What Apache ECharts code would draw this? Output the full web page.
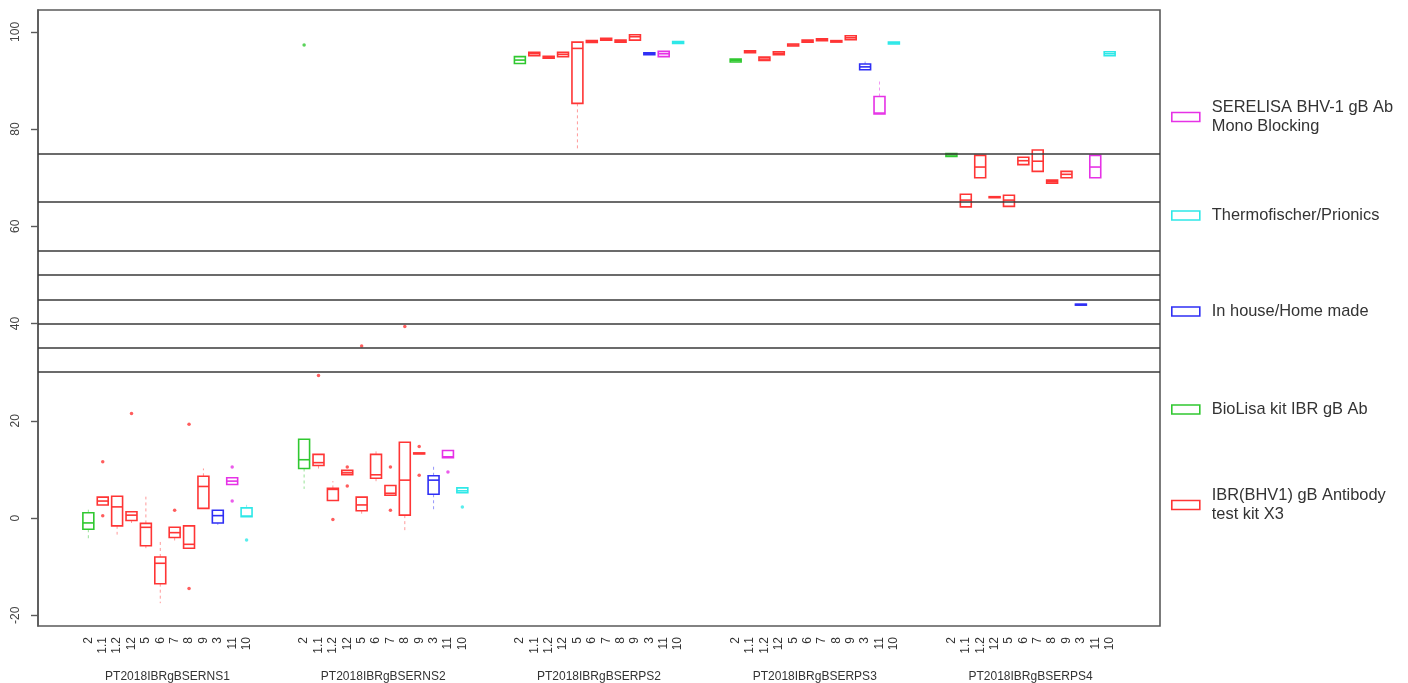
<!DOCTYPE html>
<html>
<head>
<meta charset="utf-8">
<script src="https://cdn.jsdelivr.net/npm/echarts@6/dist/echarts.min.js"></script>
<style>
  html, body { margin: 0; padding: 0; background: #fff; }
  #chart { width: 1408px; height: 683px; }
</style>
</head>
<body>
<div id="chart"></div>
<script>
// panels (one per sample) and the kits inside each panel
var groups = ["PT2018IBRgBSERNS1", "PT2018IBRgBSERNS2", "PT2018IBRgBSERPS2", "PT2018IBRgBSERPS3", "PT2018IBRgBSERPS4"];
var labs = ["2", "1.1", "1.2", "12", "5", "6", "7", "8", "9", "3", "11", "10"];
var kits = ["SERELISA BHV-1 gB Ab\nMono Blocking", "Thermofischer/Prionics", "In house/Home made", "BioLisa kit IBR gB Ab", "IBR(BHV1) gB Antibody\ntest kit X3"];
// which kit each lab used (index into kits)
var labKit = [3, 4, 4, 4, 4, 4, 4, 4, 4, 2, 0, 1];
var yTicks = [-20, 0, 20, 40, 60, 80, 100];
var refLines = [75, 65, 55, 50, 45, 40, 35, 30];

// box stats per panel: [min, q1, median, q3, max] for each lab
var statsNS1 = [
  [-4.3, -2.3, -1.0, 1.1, 2.3], [2.7, 2.7, 3.5, 4.3, 4.3], [-3.4, -1.6, 2.3, 4.5, 4.5], [-1.0, -0.5, 0.6, 1.3, 1.3],
  [-6.2, -5.7, -1.9, -1.1, 4.4], [-17.5, -13.5, -9.3, -8.0, -4.5], [-5.2, -4.0, -3.0, -1.9, -1.9], [-6.2, -6.2, -5.4, -1.6, -1.6],
  [2.0, 2.0, 6.5, 8.6, 10.2], [-1.4, -1.0, 0.5, 1.6, 1.6], [6.9, 6.9, 7.6, 8.3, 8.3], [0.3, 0.3, 0.4, 2.1, 2.8]
];
var statsNS2 = [
  [6.0, 10.2, 12.0, 16.2, 16.2], [9.7, 10.8, 11.4, 13.1, 13.1], [3.6, 3.6, 5.9, 6.1, 7.6], [8.9, 8.9, 9.3, 9.8, 9.8],
  [0.9, 1.5, 2.7, 4.3, 4.3], [7.3, 8.2, 8.9, 13.1, 13.8], [4.7, 4.7, 5.1, 6.7, 6.7], [-3.0, 0.6, 7.8, 15.6, 15.6],
  [13.2, 13.2, 13.3, 13.4, 13.4], [1.5, 4.9, 7.8, 8.7, 10.9], [12.4, 12.4, 12.6, 13.9, 13.9], [5.2, 5.2, 5.6, 6.2, 6.2]
];
var statsPS2 = [
  [93.5, 93.5, 94.2, 94.9, 94.9], [95.1, 95.1, 95.5, 95.8, 95.8], [94.6, 94.6, 94.8, 95.0, 95.0], [94.9, 94.9, 95.4, 95.8, 95.8],
  [75.5, 85.3, 96.6, 97.9, 97.9], [97.8, 97.8, 98.0, 98.2, 98.2], [98.3, 98.3, 98.5, 98.7, 98.7], [97.9, 97.9, 98.1, 98.3, 98.3],
  [98.3, 98.3, 99.0, 99.4, 99.4], [95.3, 95.3, 95.5, 95.7, 95.7], [94.9, 94.9, 95.5, 96.0, 96.0], [97.6, 97.6, 97.8, 98.0, 98.0]
];
var statsPS3 = [
  [93.8, 93.8, 94.1, 94.4, 94.4], [95.7, 95.7, 95.9, 96.1, 96.1], [94.1, 94.1, 94.4, 94.8, 94.8], [95.3, 95.3, 95.6, 95.9, 95.9],
  [97.1, 97.1, 97.3, 97.5, 97.5], [97.9, 97.9, 98.1, 98.3, 98.3], [98.2, 98.2, 98.4, 98.6, 98.6], [97.9, 97.9, 98.1, 98.2, 98.2],
  [98.4, 98.4, 98.8, 99.2, 99.2], [92.2, 92.2, 92.8, 93.4, 93.9], [83.1, 83.1, 83.3, 86.7, 90.0], [97.5, 97.5, 97.7, 97.9, 97.9]
];
var statsPS4 = [
  [74.4, 74.4, 74.7, 75.0, 75.0], [64.0, 64.0, 65.4, 66.6, 66.6], [70.0, 70.0, 72.2, 74.6, 74.6], [65.9, 65.9, 66.0, 66.1, 66.1],
  [64.1, 64.1, 65.4, 66.4, 66.4], [72.7, 72.7, 73.5, 74.2, 74.2], [71.3, 71.3, 73.4, 75.7, 75.7], [68.9, 68.9, 69.2, 69.5, 69.5],
  [70.0, 70.0, 70.7, 71.3, 71.3], [43.8, 43.8, 43.9, 44.0, 44.0], [70.0, 70.0, 72.2, 74.6, 74.6], [95.1, 95.1, 95.5, 95.9, 95.9]
];
var stats = [statsNS1, statsNS2, statsPS2, statsPS3, statsPS4];

// outliers per panel: [lab index, value]
var outNS1 = [[1, 11.6], [1, 0.5], [3, 21.5], [6, 1.6], [7, 19.3], [7, -14.5], [10, 10.5], [10, 3.5], [11, -4.5]];
var outNS2 = [[0, 97.3], [1, 29.3], [2, -0.3], [3, 10.5], [3, 6.6], [4, 35.4], [6, 10.5], [6, 1.6], [7, 39.4], [8, 14.7], [8, 8.8], [10, 9.5], [11, 2.3]];
var outPS2 = [];
var outPS3 = [];
var outPS4 = [];
var outliers = [outNS1, outNS2, outPS2, outPS3, outPS4];

var kitColors = ["#e632e6", "#2ee8e8", "#2f2ff5", "#30c830", "#ff3535"];
var kitWhisk = ["rgba(230,50,230,0.5)", "rgba(46,232,232,0.5)", "rgba(47,47,245,0.5)", "rgba(48,200,48,0.5)", "rgba(255,53,53,0.5)"];

var GAP = 3;          // empty slots between panels
var PER = labs.length + GAP;

// category slots along x
var slots = [];
for (var g = 0; g < groups.length; g++) {
  for (var k = 0; k < GAP; k++) slots.push("_" + g + "_" + k);
  for (var i = 0; i < labs.length; i++) slots.push(g + "|" + labs[i]);
}
for (var k2 = 0; k2 < GAP; k2++) slots.push("_end_" + k2);

function slotOf(g, i) { return g * PER + GAP + i; }

function renderBox(params, api) {
  var x = api.value(0);
  var pMin = api.coord([x, api.value(1)]);
  var pQ1 = api.coord([x, api.value(2)]);
  var pMed = api.coord([x, api.value(3)]);
  var pQ3 = api.coord([x, api.value(4)]);
  var pMax = api.coord([x, api.value(5)]);
  var w = api.size([1, 0])[0] * 0.76;
  var cx = pMed[0];
  var kit = api.value(6);
  var col = kitColors[kit];
  var wc = kitWhisk[kit];
  var h = pQ1[1] - pQ3[1];
  return {
    type: "group",
    children: [
      { type: "line", shape: { x1: cx, y1: pQ3[1], x2: cx, y2: pMax[1] }, style: { stroke: wc, lineWidth: 1, lineDash: [3, 3] } },
      { type: "line", shape: { x1: cx, y1: pQ1[1], x2: cx, y2: pMin[1] }, style: { stroke: wc, lineWidth: 1, lineDash: [3, 3] } },
      { type: "rect", shape: { x: cx - w / 2, y: pQ3[1], width: w, height: Math.max(h, 1) }, style: { fill: "none", stroke: col, lineWidth: 1.6 } },
      { type: "line", shape: { x1: cx - w / 2, y1: pMed[1], x2: cx + w / 2, y2: pMed[1] }, style: { stroke: col, lineWidth: 1.6 } }
    ]
  };
}

var series = [];
kits.forEach(function (name, kit) {
  var boxes = [], pts = [];
  for (var g = 0; g < groups.length; g++) {
    for (var i = 0; i < labs.length; i++) {
      if (labKit[i] !== kit) continue;
      var s = stats[g][i];
      boxes.push([slotOf(g, i), s[0], s[1], s[2], s[3], s[4], kit]);
    }
    outliers[g].forEach(function (o) {
      if (labKit[o[0]] === kit) pts.push([slotOf(g, o[0]), o[1]]);
    });
  }
  series.push({
    name: name,
    type: "custom",
    renderItem: renderBox,
    encode: { x: 0, y: [1, 2, 3, 4, 5] },
    data: boxes,
    z: 3,
    itemStyle: { color: kitColors[kit] }
  });
  series.push({
    name: name,
    type: "scatter",
    data: pts,
    symbolSize: 3.5,
    z: 3,
    itemStyle: { color: kitColors[kit] }
  });
});

// horizontal reference lines
series.push({
  name: "ref",
  type: "line",
  data: [],
  markLine: {
    silent: true,
    symbol: "none",
    label: { show: false },
    lineStyle: { color: "#3a3a3a", width: 1.6, type: "solid" },
    data: refLines.map(function (v) { return { yAxis: v }; })
  }
});

// one legend block per kit, placed down the right side
var legendTops = [98, 206, 302, 400, 486];
var legends = kits.map(function (name, kit) {
  return {
    left: 1171,
    top: legendTops[kit],
    orient: "vertical",
    padding: 0,
    itemWidth: 28,
    itemHeight: 9,
    selectedMode: false,
    textStyle: { fontFamily: "Liberation Sans, Arial", fontSize: 16.4, lineHeight: 19, color: "#333", padding: [0, 0, 0, 7] },
    data: [{
      name: name,
      icon: "rect",
      itemStyle: { color: "#fff", borderColor: kitColors[kit], borderWidth: 1.6 }
    }]
  };
});

var myChart = echarts.init(document.getElementById("chart"));
myChart.setOption({
  backgroundColor: "#fff",
  animation: false,
  legend: legends,
  grid: {
    left: 38,
    right: 248,
    top: 10,
    bottom: 57,
    show: true,
    borderColor: "#5a5a5a",
    borderWidth: 1.6
  },
  xAxis: [
    {
      type: "category",
      data: slots,
      boundaryGap: true,
      axisLine: { show: false },
      axisTick: { show: false },
      splitLine: { show: false },
      axisLabel: {
        interval: 0,
        rotate: 90,
        margin: 11,
        fontFamily: "Liberation Sans, Arial",
        fontSize: 12,
        color: "#333",
        formatter: function (v) {
          var p = v.indexOf("|");
          return p < 0 ? "" : v.slice(p + 1);
        }
      }
    },
    {
      type: "value",
      min: 0,
      max: slots.length,
      position: "bottom",
      axisLine: { show: false },
      axisTick: { show: false },
      splitLine: { show: false },
      axisLabel: {
        customValues: groups.map(function (n, g) { return g * PER + GAP + labs.length / 2; }),
        margin: 45,
        fontFamily: "Liberation Sans, Arial",
        fontSize: 12,
        color: "#333",
        formatter: function (v) { return groups[Math.round((v - GAP - labs.length / 2) / PER)] || ""; }
      }
    }
  ],
  yAxis: {
    type: "value",
    min: -22.2,
    max: 104.5,
    splitLine: { show: false },
    axisLine: { show: true, lineStyle: { color: "#5a5a5a", width: 1.6 } },
    axisTick: { show: true, length: 7, customValues: yTicks, lineStyle: { color: "#5a5a5a", width: 1.4 } },
    axisLabel: {
      customValues: yTicks,
      rotate: 90,
      margin: 16,
      fontFamily: "Liberation Sans, Arial",
      fontSize: 12,
      color: "#444"
    }
  },
  series: series
});
</script>
</body>
</html>
